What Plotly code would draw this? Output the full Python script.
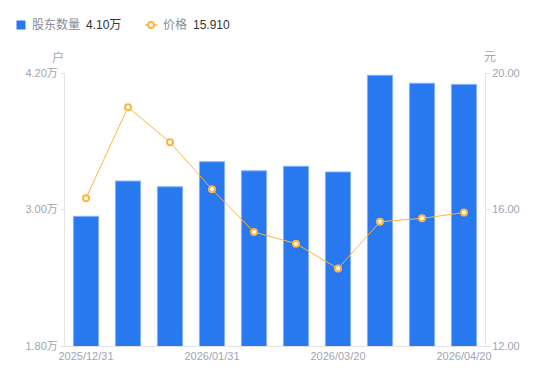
import plotly.graph_objects as go

categories = ["2025/12/31", "2026/01/10", "2026/01/20", "2026/01/31", "2026/02/10",
              "2026/02/28", "2026/03/20", "2026/03/31", "2026/04/10", "2026/04/20"]
holders_wan = [2.94, 3.25, 3.20, 3.42, 3.34, 3.38, 3.33, 4.18, 4.11, 4.10]
price = [16.33, 19.00, 17.97, 16.59, 15.34, 15.00, 14.27, 15.64, 15.74, 15.91]
x_tick_idx = [0, 3, 6, 9]
left_ticks = [1.8, 3.0, 4.2]
right_ticks = [12, 16, 20]
legend_names = ["股东数量", "价格"]
legend_values = ["4.10万", "15.910"]

FONT = "Liberation Sans, Noto Sans CJK SC, sans-serif"
GRAY = "#a3a3b3"
AXIS = "#e3e3e8"
BLUE = "#2878f0"
ORANGE = "#ffb53d"

W, H = 550, 381
L, R, T, B = 65, 65, 73, 35
PW, PH = W - L - R, H - T - B


def px(x):
    return (x - L) / PW


def py(y):
    return 1 - (y - T) / PH


fig = go.Figure()
fig.add_trace(go.Bar(
    x=categories, y=holders_wan, name=legend_names[0],
    marker=dict(color=BLUE, line=dict(color="#86b3f7", width=1)),
    yaxis="y", hoverinfo="skip", showlegend=False))
fig.add_trace(go.Scatter(
    x=categories, y=price, name=legend_names[1],
    mode="lines+markers",
    line=dict(color=ORANGE, width=1),
    marker=dict(symbol="circle", size=6, color="#ffffff", line=dict(color=ORANGE, width=2)),
    yaxis="y2", hoverinfo="skip", showlegend=False))

ly = 25
shapes = [
    dict(type="rect", xref="paper", yref="paper", x0=px(16.5), x1=px(25.5),
         y0=py(20.5), y1=py(29.5), fillcolor=BLUE, line=dict(width=0)),
    dict(type="line", xref="paper", yref="paper", x0=px(145), x1=px(157),
         y0=py(ly), y1=py(ly), line=dict(color=ORANGE, width=1.5)),
    dict(type="circle", xref="paper", yref="paper", x0=px(148), x1=px(154),
         y0=py(ly - 3), y1=py(ly + 3), fillcolor="white", line=dict(color=ORANGE, width=2)),
]

annotations = [
    dict(text=legend_names[0], x=px(30), y=py(ly), font=dict(size=12, color="#8a8a99"),
         xanchor="left"),
    dict(text=legend_values[0], x=px(84), y=py(ly), font=dict(size=12, color="#333333"),
         xanchor="left"),
    dict(text=legend_names[1], x=px(160.5), y=py(ly), font=dict(size=12, color="#8a8a99"),
         xanchor="left"),
    dict(text=legend_values[1], x=px(191), y=py(ly), font=dict(size=12, color="#333333"),
         xanchor="left"),
    dict(text="户", x=px(58), y=py(57), font=dict(size=12, color=GRAY), xanchor="center"),
    dict(text="元", x=px(490), y=py(57), font=dict(size=12, color=GRAY), xanchor="center"),
]
for a in annotations:
    a.update(xref="paper", yref="paper", showarrow=False, yanchor="middle")

fig.update_layout(
    width=W, height=H,
    margin=dict(l=L, r=R, t=T, b=B, autoexpand=False),
    paper_bgcolor="white", plot_bgcolor="white",
    font=dict(family=FONT, size=11, color=GRAY),
    bargap=0.4,
    showlegend=False,
    hovermode=False,
    xaxis=dict(type="category", range=[-0.5, len(categories) - 0.5],
               showgrid=False, showline=True, linecolor=AXIS, linewidth=1,
               ticks="", tickmode="array", tickvals=[categories[i] for i in x_tick_idx],
               ticktext=[categories[i] for i in x_tick_idx],
               tickfont=dict(size=11, color=GRAY), zeroline=False, automargin=False),
    yaxis=dict(range=[1.8, 4.2], tickmode="array", tickvals=left_ticks,
               ticktext=[f"{v:.2f}万" for v in left_ticks], showgrid=False, zeroline=False,
               showline=True, linecolor=AXIS, linewidth=1, ticks="outside", ticklen=4,
               tickcolor=AXIS, tickfont=dict(size=11, color=GRAY), automargin=False),
    yaxis2=dict(range=[12, 20], overlaying="y", side="right", tickmode="array",
                tickvals=right_ticks, ticktext=[f"{v:.2f}" for v in right_ticks],
                showgrid=False, zeroline=False, showline=True, linecolor=AXIS, linewidth=1,
                ticks="outside", ticklen=4, tickcolor=AXIS, tickfont=dict(size=11, color=GRAY),
                automargin=False),
    shapes=shapes,
    annotations=annotations,
)

fig.write_html("out.html", config={"displayModeBar": False},
               post_script="document.body.style.margin='0';document.body.style.padding='0';")
